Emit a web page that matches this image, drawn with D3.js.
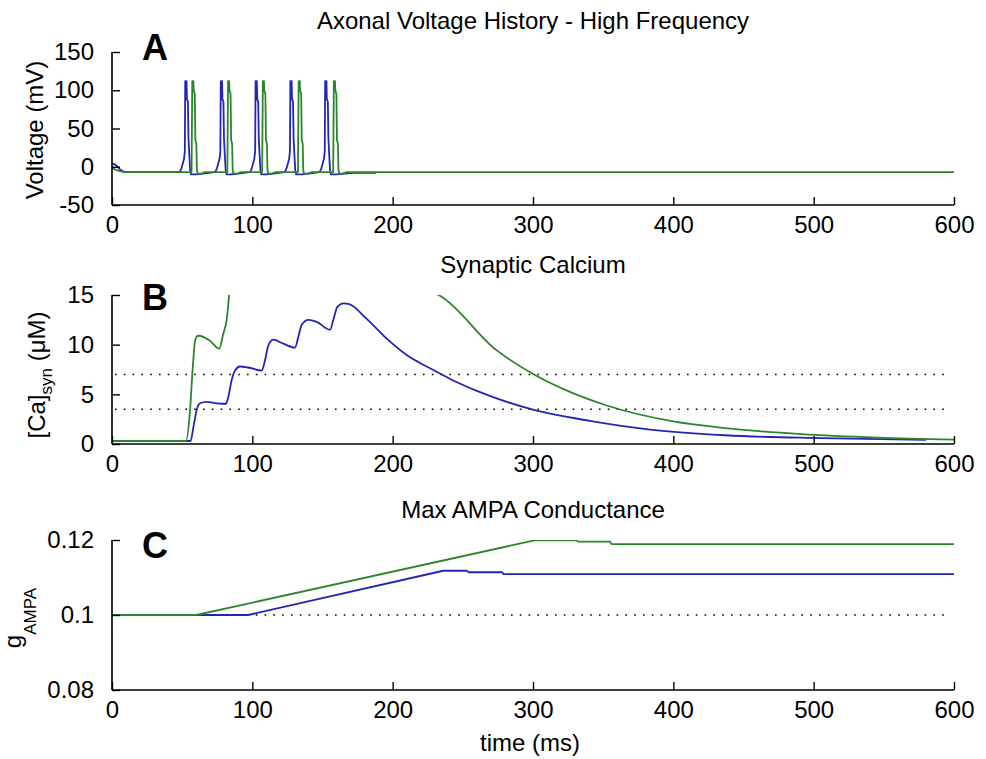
<!DOCTYPE html>
<html>
<head>
<meta charset="utf-8">
<script src="https://cdn.jsdelivr.net/npm/d3@7"></script>
<style>
  html, body { margin: 0; padding: 0; background: #fff; }
  svg text { font-family: "Liberation Sans", Arial, Helvetica, sans-serif; fill: #000; }
</style>
</head>
<body>
<svg id="fig" width="986" height="759"></svg>
<script>
// ---- shared axis ticks ----
const timeTicks = [0, 100, 200, 300, 400, 500, 600];
const voltTicks = [-50, 0, 50, 100, 150];
const caTicks = [0, 5, 10, 15];
const gTicks = [0.08, 0.1, 0.12];
const gTickLabels = ["0.08", "0.1", "0.12"];

// ---- reference levels (dotted lines) ----
const caThresholds = [3.5, 7];
const gBaseline = [0.1];

// ---- A: axonal voltage (ms, mV) ----
const voltageBlue = [
  [0,4],[2,3],[4,0],[6,-4],[9,-7],[48,-7],
  [48.5,-6],[49.5,-2],[51.3,10],[51.9,20],[52.2,112],[53.1,112],[53.4,88],[54.1,85],[54.5,37],[55.1,15],[55.7,-5],[56.3,-10],[60,-10],[65,-9],[69,-8],[73,-7],
  [73.8,-6],[74.8,-2],[76.6,10],[77.2,20],[77.5,112],[78.4,112],[78.7,88],[79.4,85],[79.8,37],[80.4,15],[81,-5],[81.6,-10],[85,-10],[90,-9],[94,-8],[98,-7],
  [98.6,-6],[99.6,-2],[101.4,10],[102,20],[102.3,112],[103.2,112],[103.5,88],[104.2,85],[104.6,37],[105.2,15],[105.8,-5],[106.4,-10],[110,-10],[115,-9],[119,-8],[123,-7],
  [123.4,-6],[124.4,-2],[126.2,10],[126.8,20],[127.1,112],[128,112],[128.3,88],[129,85],[129.4,37],[130,15],[130.6,-5],[131.2,-10],[135,-10],[140,-9],[144,-8],[148,-7],
  [148.2,-6],[149.2,-2],[151,10],[151.6,20],[151.9,112],[152.8,112],[153.1,88],[153.8,85],[154.2,37],[154.8,15],[155.4,-5],[156,-10],[160,-10],[166,-9],[172,-8],[188,-8]
];
const voltageGreen = [
  [0,-2],[3,-4],[6,-6],[10,-7],[56.7,-7],
  [57.2,112],[58,112],[58.2,100],[59,95],[59.4,35],[60.1,30],[60.5,-5],[61.1,-9],[63.5,-9],[66.5,-7],[82.2,-7],
  [82.7,112],[83.5,112],[83.7,100],[84.5,95],[84.9,35],[85.6,30],[86,-5],[86.6,-9],[89,-9],[92,-7],[107,-7],
  [107.5,112],[108.3,112],[108.5,100],[109.3,95],[109.7,35],[110.4,30],[110.8,-5],[111.4,-9],[113.8,-9],[116.8,-7],[132.5,-7],
  [133,112],[133.8,112],[134,100],[134.8,95],[135.2,35],[135.9,30],[136.3,-5],[136.9,-9],[139.3,-9],[142.3,-7],[157.6,-7],
  [158.1,112],[158.9,112],[159.1,100],[159.9,95],[160.3,35],[161,30],[161.4,-5],[162,-9],[164.4,-9],[167.4,-7],[600,-7]
];

// ---- B: synaptic calcium (ms, µM); null marks the off-scale stretch ----
const calciumBlue = [
  [0,0.3],[56,0.3],[58,1.7],[60.3,3.4],[62.7,4.1],[67.5,4.25],[74.6,4.1],[81.2,4.05],
  [82.9,4.75],[85.2,6.4],[87.7,7.4],[91.2,7.8],[97.2,7.7],[106.7,7.4],
  [109,8.4],[111.5,9.95],[115,10.5],[122,10.1],[130.4,9.7],
  [132.8,10.8],[135.2,12],[139.9,12.5],[145.9,12.3],[155.4,11.5],
  [157.7,12.5],[160.6,13.8],[164.9,14.15],[168.5,14.1],[181.5,12.6],[195.8,10.6],[210,8.95],
  [229,7.45],[241,6.55],[260,5.35],[300,3.45],[341.5,2.3],[382,1.47],[437,0.88],[505,0.59],[580,0.42]
];
const calciumGreen = [
  [0,0.3],[52.7,0.3],[55.6,3.4],[57.4,7.4],[59.1,10.3],[60.3,10.8],[61.7,10.9],[69.8,10.4],[76.4,9.6],
  [79.3,11.1],[81.7,12.5],[83.6,15.2],
  null,
  [230,15.2],[234,14.9],[273.5,9.5],[300.7,7.0],[328,5.15],[352,3.9],[401,2.25],[437,1.6],[491,1.0],[545.6,0.65],[600,0.45]
];

// ---- C: max AMPA conductance (ms, g) ----
const gampaBlue = [
  [0,0.1],[97,0.1],[236,0.1118],[253,0.1118],[254,0.1114],[278,0.1114],[279,0.1109],[600,0.1109]
];
const gampaGreen = [
  [0,0.1],[60,0.1],[301,0.1199],[331,0.1199],[332,0.11955],[355,0.11955],[356,0.1189],[600,0.1189]
];

const BLUE = "#2525b5";
const GREEN = "#2b862b";
const FONT = 24;

const svg = d3.select("#fig");
svg.append("rect").attr("width", 986).attr("height", 759).attr("fill", "#fff");

const left = 112, right = 954;
const x = d3.scaleLinear().domain([0, 600]).range([left, right]);

// plain ASCII hyphen for negative tick values
const plainNum = d => String(d);

function panel(cfg) {
  const y = d3.scaleLinear().domain(cfg.domain).range([cfg.bottom, cfg.top]);
  const g = svg.append("g");
  const clipId = "clip-" + cfg.id;
  svg.append("clipPath").attr("id", clipId)
    .append("rect").attr("x", left).attr("y", cfg.top)
    .attr("width", right - left + 1).attr("height", cfg.bottom - cfg.top);

  // reference dotted lines
  (cfg.refs || []).forEach(v => {
    g.append("line")
      .attr("x1", x(0) + 3).attr("x2", x(600) - 3)
      .attr("y1", y(v)).attr("y2", y(v))
      .attr("stroke", "#000").attr("stroke-width", 1.6)
      .attr("stroke-dasharray", "1.6,7.2");
  });

  const line = d3.line()
    .defined(d => d !== null)
    .x(d => x(d[0])).y(d => y(d[1]))
    .curve(cfg.curve || d3.curveLinear);

  const plot = g.append("g").attr("clip-path", `url(#${clipId})`);
  cfg.series.forEach(s => {
    plot.append("path").datum(s.data)
      .attr("d", line)
      .attr("fill", "none")
      .attr("stroke", s.color)
      .attr("stroke-width", 1.8)
      .attr("stroke-linejoin", "round");
  });

  // x axis (ticks pointing inward)
  const xAxis = d3.axisBottom(x).tickValues(timeTicks).tickSizeInner(-8).tickSizeOuter(0).tickPadding(14)
    .tickFormat(plainNum);
  const gx = g.append("g").attr("transform", `translate(0,${cfg.bottom})`).call(xAxis);
  // y axis
  const yAxis = d3.axisLeft(y).tickValues(cfg.ticks).tickSizeInner(-8).tickSizeOuter(0).tickPadding(18)
    .tickFormat((d, i) => cfg.tickLabels ? cfg.tickLabels[i] : plainNum(d));
  const gy = g.append("g").attr("transform", `translate(${left},0)`).call(yAxis);

  [gx, gy].forEach(a => {
    a.select(".domain").attr("stroke", "#000").attr("stroke-width", 1.6);
    a.selectAll(".tick line").attr("stroke", "#000").attr("stroke-width", 1.4);
    a.selectAll(".tick text").style("font-size", FONT + "px")
      .style("font-family", '"Liberation Sans", Arial, sans-serif').attr("fill", "#000");
  });
  gx.selectAll(".tick text").attr("dy", null).attr("y", 28).attr("dominant-baseline", "auto");
  // plain axis lines without outer tick stubs
  gx.select(".domain").attr("d", `M${left},0H${right}`);
  gy.select(".domain").attr("d", `M0,${cfg.bottom}V${cfg.top}`);

  // title
  svg.append("text").attr("x", (left + right) / 2).attr("y", cfg.titleY)
    .attr("text-anchor", "middle").style("font-size", FONT + "px").text(cfg.title);
  // panel letter
  svg.append("text").attr("x", 142).attr("y", cfg.letterY)
    .style("font-size", "36px").style("font-weight", "bold").text(cfg.letter);
  return y;
}

panel({
  id: "a", top: 52, bottom: 205, domain: [-50, 150], ticks: voltTicks,
  title: "Axonal Voltage History - High Frequency", titleY: 29, letter: "A", letterY: 60,
  series: [{ data: voltageBlue, color: BLUE }, { data: voltageGreen, color: GREEN }]
});
panel({
  id: "b", top: 295, bottom: 444, domain: [0, 15], ticks: caTicks,
  title: "Synaptic Calcium", titleY: 273, letter: "B", letterY: 310,
  refs: caThresholds, curve: d3.curveMonotoneX,
  series: [{ data: calciumBlue, color: BLUE }, { data: calciumGreen, color: GREEN }]
});
panel({
  id: "c", top: 540, bottom: 690, domain: [0.08, 0.12], ticks: gTicks, tickLabels: gTickLabels,
  title: "Max AMPA Conductance", titleY: 518, letter: "C", letterY: 558,
  refs: gBaseline,
  series: [{ data: gampaBlue, color: BLUE }, { data: gampaGreen, color: GREEN }]
});

// y-axis labels
svg.append("text").attr("transform", "translate(43,130) rotate(-90)")
  .attr("text-anchor", "middle").style("font-size", FONT + "px").text("Voltage (mV)");

const caLabel = svg.append("text").attr("transform", "translate(45,375) rotate(-90)")
  .attr("text-anchor", "middle").style("font-size", FONT + "px");
caLabel.append("tspan").text("[Ca]");
caLabel.append("tspan").attr("dy", 7).style("font-size", "17px").text("syn");
caLabel.append("tspan").attr("dy", -7).text(" (\u03BCM)");

const gLabel = svg.append("text").attr("transform", "translate(21,618) rotate(-90)")
  .attr("text-anchor", "middle").style("font-size", FONT + "px");
gLabel.append("tspan").text("g");
gLabel.append("tspan").attr("dy", 15).style("font-size", "17px").text("AMPA");

// x-axis label
svg.append("text").attr("x", 530).attr("y", 751).attr("text-anchor", "middle")
  .style("font-size", FONT + "px").text("time (ms)");
</script>
</body>
</html>
